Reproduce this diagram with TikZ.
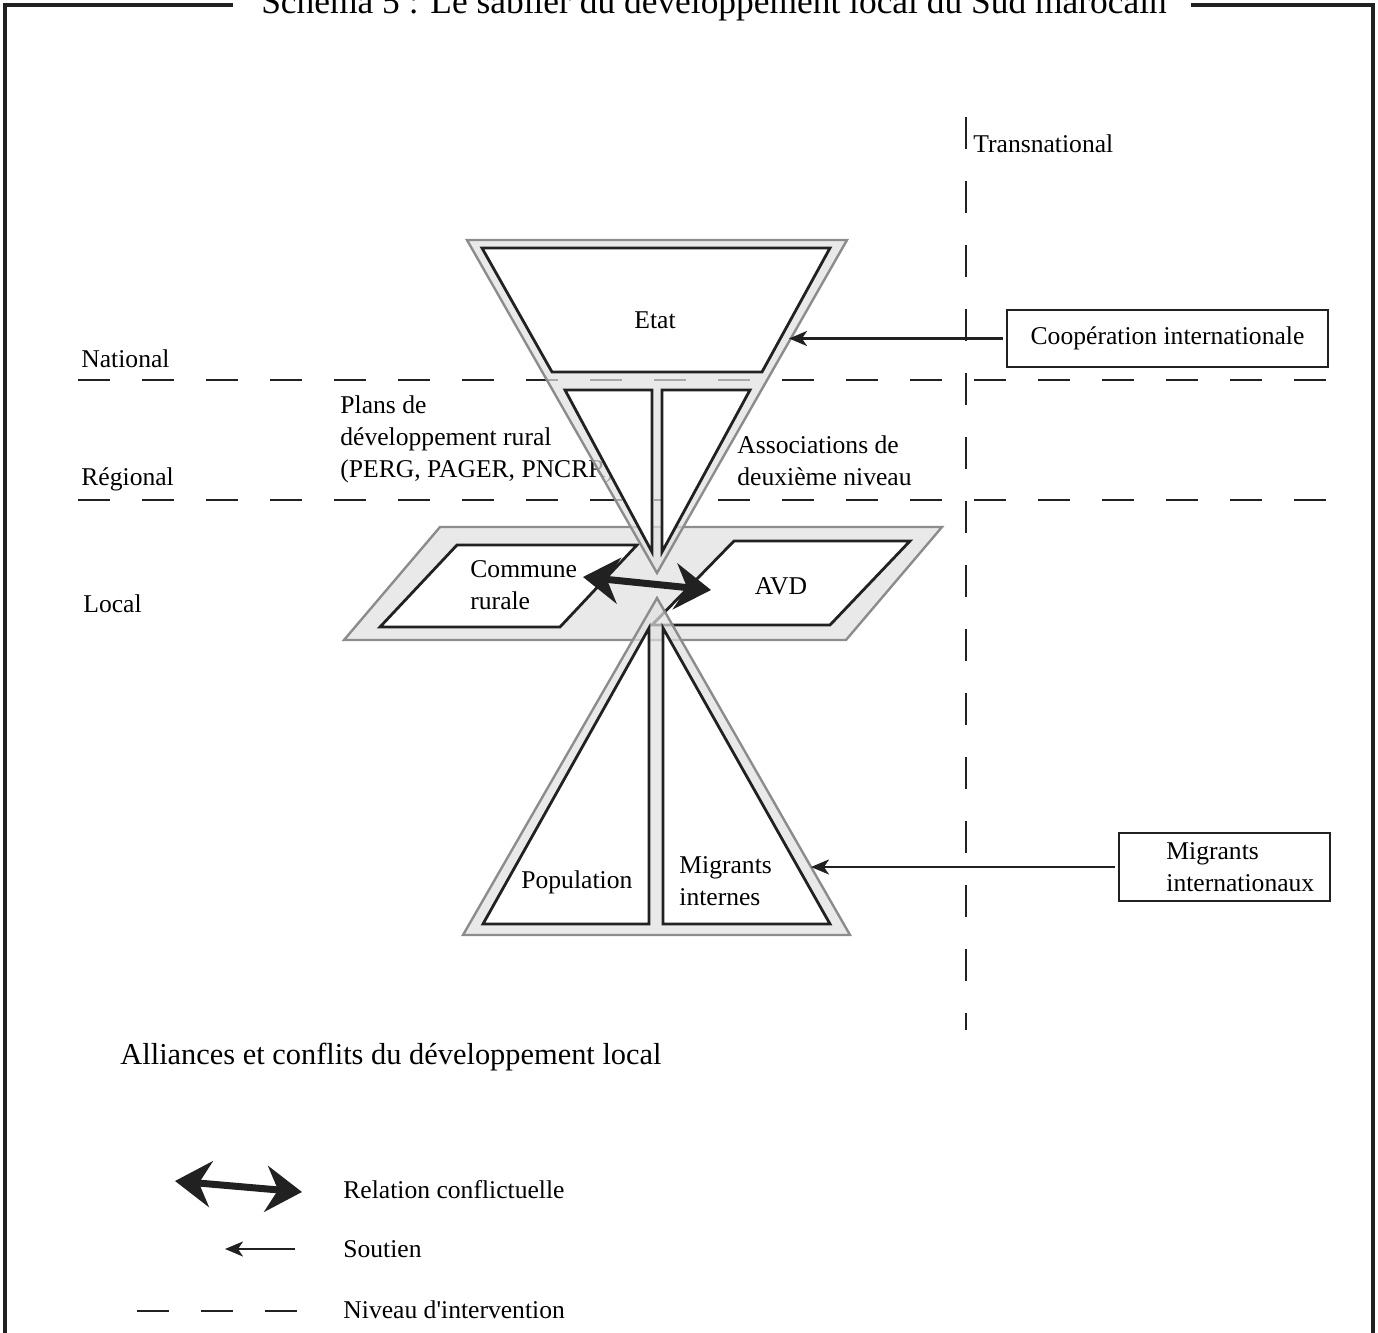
\documentclass[tikz,border=0pt]{standalone}
\usepackage{fontspec}
\setmainfont{Liberation Serif}
\usetikzlibrary{arrows.meta,calc}

\definecolor{bandfill}{gray}{0.88}
\definecolor{bandline}{gray}{0.55}
\definecolor{inkline}{gray}{0.13}

\tikzset{
  lvl/.style={draw=inkline, line width=1.4pt, dash pattern=on 16pt off 16pt},
  band/.style={fill=bandfill, fill opacity=0.7, draw=bandline, line width=1.2pt},
  cell/.style={fill=white, draw=inkline, line width=1.4pt},
  lbl/.style={font=\fontsize{12.8}{16}\selectfont, inner sep=0pt, align=left},
  supbox/.style={draw=inkline, line width=1.4pt, font=\fontsize{12.8}{16}\selectfont},
  soutien/.style={draw=inkline, line width=1.2pt, -{Stealth[length=9pt,width=7.5pt,inset=2.5pt]}},
  conflit/.style={draw=inkline, line width=3.5pt,
    {Stealth[length=18pt,width=23pt,inset=6pt]}-{Stealth[length=18pt,width=23pt,inset=6pt]}},
}

\begin{document}
\begin{tikzpicture}[x=0.5pt, y=-0.5pt]
  \useasboundingbox (0,0) rectangle (1378,1333);
  % frame and title
  \node[font=\fontsize{17.7}{20}\selectfont, anchor=base] (title) at (714,13)
       {Schéma 5 : Le sablier du développement local du Sud marocain};
  \draw[draw=inkline, line width=1.6pt] (233,5) -| (5,1345);
  \draw[draw=inkline, line width=1.6pt] (1191,5) -| (1373,1345);
  % draw levels
  \draw[lvl] (78,380) -- (1328,380);
  \draw[lvl] (78,500) -- (1328,500);
  \draw[lvl] (966,117) -- (966,1030);
  \node[lbl, anchor=base west] (national) at (81,367) {National};
  \node[lbl, anchor=base west] (regional) at (81,485) {Régional};
  \node[lbl, anchor=base west] (local) at (83,612) {Local};
  \node[lbl, anchor=base west] (transnat) at (973,152) {Transnational};
  \node[lbl, anchor=west] (plans) at (340,439)
       {Plans de\\développement rural\\(PERG, PAGER, PNCRR)};
  % local level
  \draw[band] (440,527) -- (942,527) -- (846,640) -- (344,640) -- cycle;
  \draw[cell] (457,545) -- (637,545) -- (560,627) -- (380,627) -- cycle;
  \draw[cell] (734,541) -- (910,541) -- (830,625) -- (652,625) -- cycle;
  % upper half of the sablier
  \draw[band] (467,240) -- (847,240) -- (657,573) -- cycle;
  \draw[cell] (482,248) -- (830,248) -- (762,372) -- (552,372) -- cycle;
  \draw[cell] (565,390) -- (652,390) -- (652,552) -- cycle;
  \draw[cell] (662,390) -- (750,390) -- (662,552) -- cycle;
  % lower half of the sablier
  \draw[band] (657,598) -- (850,935) -- (463,935) -- cycle;
  \draw[cell] (649,628) -- (649,924) -- (483,924) -- cycle;
  \draw[cell] (663,628) -- (830,924) -- (663,924) -- cycle;
  % actors
  \node[lbl] (etat) at (655,320) {Etat};
  \node[lbl, anchor=west] (assoc) at (737,461) {Associations de\\deuxième niveau};
  \node[lbl, anchor=west] (commune) at (470,585) {Commune\\rurale};
  \node[lbl] (avd) at (781,586) {AVD};
  \node[lbl, anchor=west] (popul) at (521,882) {Population};
  \node[lbl, anchor=west] (migint) at (679,881) {Migrants\\internes};
  % outside support
  \node[supbox, minimum width=160.5pt, minimum height=28.5pt] (coop)
       at (1167.5,338.5) {Coopération internationale};
  \node[supbox, minimum width=105.5pt, minimum height=34pt] (migintl)
       at (1224.5,867) {};
  \node[lbl, anchor=west] (migintltxt) at (1166,867) {Migrants\\internationaux};
  \coordinate (etathit) at (789,338.5);
  \coordinate (basehit) at (811,867);
  \draw[soutien, shorten <=1.5pt] (coop.west) -- (etathit);
  \draw[soutien, shorten <=1.5pt] (migintl.west) -- (basehit);
  % conflict
  \coordinate (confL) at (583,577);
  \coordinate (confR) at (711,590);
  \draw[conflit] (confL) -- (confR);
  % legend
  \node[anchor=west, inner sep=0pt, font=\fontsize{15.2}{18}\selectfont] (legtitle)
       at (120,1057) {Alliances et conflits du développement local};
  \coordinate (legconfL) at (175,1181);
  \coordinate (legconfR) at (302,1192);
  \draw[conflit] (legconfL) -- (legconfR);
  \node[lbl, anchor=west] (legconf) at (343,1190) {Relation conflictuelle};
  \coordinate (legsouR) at (295,1249);
  \coordinate (legsouL) at (225,1249);
  \draw[soutien] (legsouR) -- (legsouL);
  \node[lbl, anchor=west] (legsou) at (343,1249) {Soutien};
  \draw[lvl] (137,1311) -- (297,1311);
  \node[lbl, anchor=west] (leglvl) at (343,1310) {Niveau d\textquotesingle intervention};
\end{tikzpicture}
\end{document}
